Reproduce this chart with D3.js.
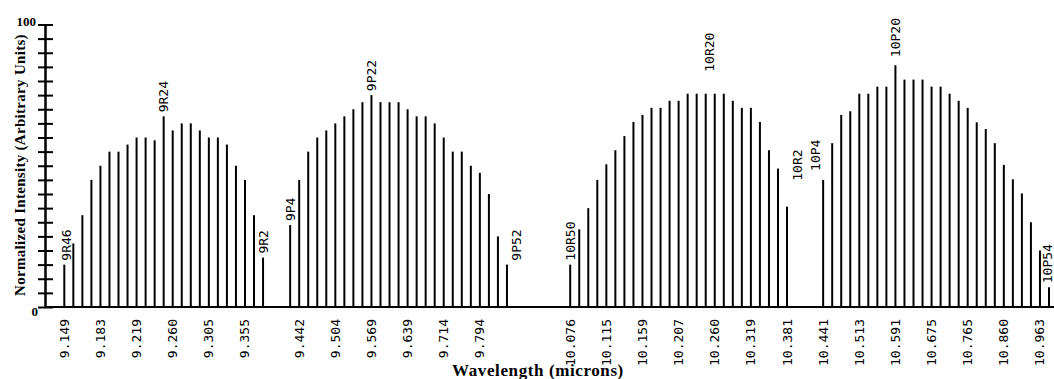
<!DOCTYPE html>
<html>
<head>
<meta charset="utf-8">
<script src="https://cdn.jsdelivr.net/npm/d3@7"></script>
<style>
  body { margin: 0; background: #fff; }
  svg { display: block; }
</style>
</head>
<body>
<svg width="1054" height="379"></svg>
<script>
// laser lines, one array per branch (rotational J numbers)
var lines9R  = ["9R46","9R44","9R42","9R40","9R38","9R36","9R34","9R32","9R30","9R28","9R26","9R24",
                "9R22","9R20","9R18","9R16","9R14","9R12","9R10","9R8","9R6","9R4","9R2"];
var lines9P  = ["9P4","9P6","9P8","9P10","9P12","9P14","9P16","9P18","9P20","9P22","9P24","9P26","9P28",
                "9P30","9P32","9P34","9P36","9P38","9P40","9P42","9P44","9P46","9P48","9P50","9P52"];
var lines10R = ["10R50","10R48","10R46","10R44","10R42","10R40","10R38","10R36","10R34","10R32","10R30",
                "10R28","10R26","10R24","10R22","10R20","10R18","10R16","10R14","10R12","10R10","10R8",
                "10R6","10R4","10R2"];
var lines10P = ["10P4","10P6","10P8","10P10","10P12","10P14","10P16","10P18","10P20","10P22","10P24",
                "10P26","10P28","10P30","10P32","10P34","10P36","10P38","10P40","10P42","10P44","10P46",
                "10P48","10P50","10P52","10P54"];

// normalized intensity
var int9R  = [15, 22.5, 32.5, 45, 50, 55, 55, 57.5, 60, 60, 59, 67.5,
              62.5, 65, 65, 62.5, 60, 60, 57.5, 50, 45, 32.5, 17.5];
var int9P  = [29, 45, 55, 60, 62.5, 65, 67.5, 70, 72.5, 75, 72.5, 72.5, 72.5,
              70, 67.5, 67.5, 65, 60, 55, 55, 50, 47.5, 40, 25, 15];
var int10R = [15, 27.5, 35, 45, 50.5, 55.5, 60.5, 65.5, 68, 70.5, 70.5, 73, 73,
              75.5, 75.5, 75.5, 75.5, 75.5, 73, 70.5, 70.5, 65.5, 55.5, 49, 35.5];
var int10P = [45, 58, 68, 69.3, 75.5, 75.5, 78, 78, 85.6, 80.5, 80.5, 80.5, 78,
              78, 75.5, 73, 70.5, 65.4, 63, 58, 50.3, 45.2, 40.2, 30, 20, 7];

// lines that carry a name above the bar
var namedLines = ["9R46","9R24","9R2","9P4","9P22","9P52","10R50","10R20","10R2","10P4","10P20","10P54"];

// wavelength tick labels and the line each one sits under
var tickLines  = ["9R46","9R38","9R30","9R22","9R14","9R6",
                  "9P6","9P14","9P22","9P30","9P38","9P46",
                  "10R50","10R42","10R34","10R26","10R18","10R10","10R2",
                  "10P4","10P12","10P20","10P28","10P36","10P44","10P52"];
var tickLabels = ["9.149","9.183","9.219","9.260","9.305","9.355",
                  "9.442","9.504","9.569","9.639","9.714","9.794",
                  "10.076","10.115","10.159","10.207","10.260","10.319","10.381",
                  "10.441","10.513","10.591","10.675","10.765","10.860","10.963"];

var svg = d3.select("svg");

// bars sit in even slots, with empty slots between branches
var branches = [
    {lines: lines9R,  values: int9R,  start: 0},
    {lines: lines9P,  values: int9P,  start: 25},
    {lines: lines10R, values: int10R, start: 56},
    {lines: lines10P, values: int10P, start: 84}
];
var data = [];
branches.forEach(function (b) {
    b.lines.forEach(function (name, i) {
        data.push({name: name, value: b.values[i], slot: b.start + i});
    });
});
var byName = {};
data.forEach(function (d) { byName[d.name] = d; });

var x = d3.scaleLinear().domain([0, 109]).range([64.3, 1049]);
var y = d3.scaleLinear().domain([0, 100]).range([307, 24.5]);

var axisX = 45;
var mono = "'DejaVu Sans Mono', monospace";
var serif = "'Liberation Serif', 'Times New Roman', serif";

// y axis, ticks every 5 crossing the axis line
var yAxis = svg.append("g")
    .attr("transform", "translate(" + axisX + ",0)")
    .call(d3.axisLeft(y).tickValues(d3.range(0, 101, 5)).tickFormat("").tickSizeOuter(0));
yAxis.select(".domain").attr("stroke", "#000").attr("stroke-width", 2.5);
yAxis.selectAll(".tick line")
    .attr("x1", 8).attr("x2", -7)
    .attr("stroke", "#000").attr("stroke-width", 2);

svg.append("text")
    .attr("x", 36).attr("y", y(100) + 1)
    .attr("text-anchor", "end")
    .style("font", "bold 13px " + serif)
    .text("100");
svg.append("text")
    .attr("x", 38).attr("y", y(0) + 9)
    .attr("text-anchor", "end")
    .style("font", "bold 13px " + serif)
    .text("0");

svg.append("text")
    .attr("transform", "translate(20," + 165 + ") rotate(-90)")
    .attr("text-anchor", "middle")
    .attr("dominant-baseline", "central")
    .style("font", "bold 15px " + serif)
    .style("letter-spacing", "0.3px")
    .text("Normalized Intensity (Arbitrary Units)");

// baseline
svg.append("line")
    .attr("x1", axisX).attr("x2", 1054)
    .attr("y1", y(0)).attr("y2", y(0))
    .attr("stroke", "#000").attr("stroke-width", 2);

// line bars
svg.append("g").selectAll("line")
    .data(data)
    .join("line")
    .attr("x1", function (d) { return x(d.slot); })
    .attr("x2", function (d) { return x(d.slot); })
    .attr("y1", y(0))
    .attr("y2", function (d) { return y(d.value); })
    .attr("stroke", "#000")
    .attr("stroke-width", 2);

// names above selected bars; a few are nudged aside as in the original
var nudge = {"9R46": [2, 0], "9P52": [10, 0], "10R2": [10, -22], "10R20": [4, -18],
             "10P4": [-8, -5], "10P20": [0, -4], "10P54": [-2, 0]};
svg.append("g").selectAll("text")
    .data(namedLines)
    .join("text")
    .attr("transform", function (n) {
        var d = byName[n], o = nudge[n] || [0, 0];
        return "translate(" + (x(d.slot) + o[0]) + "," + (y(d.value) - 4 + o[1]) + ") rotate(-90)";
    })
    .attr("dominant-baseline", "central")
    .style("font", "13px " + mono)
    .text(function (n) { return n; });

// wavelength tick labels
svg.append("g").selectAll("text")
    .data(tickLines)
    .join("text")
    .attr("transform", function (n) {
        return "translate(" + x(byName[n].slot) + "," + 319 + ") rotate(-90)";
    })
    .attr("text-anchor", "end")
    .attr("dominant-baseline", "central")
    .style("font", "13px " + mono)
    .text(function (n, i) { return tickLabels[i]; });

svg.append("text")
    .attr("x", 538).attr("y", 376)
    .attr("text-anchor", "middle")
    .style("font", "bold 17px " + serif)
    .style("letter-spacing", "0.6px")
    .text("Wavelength (microns)");
</script>
</body>
</html>
